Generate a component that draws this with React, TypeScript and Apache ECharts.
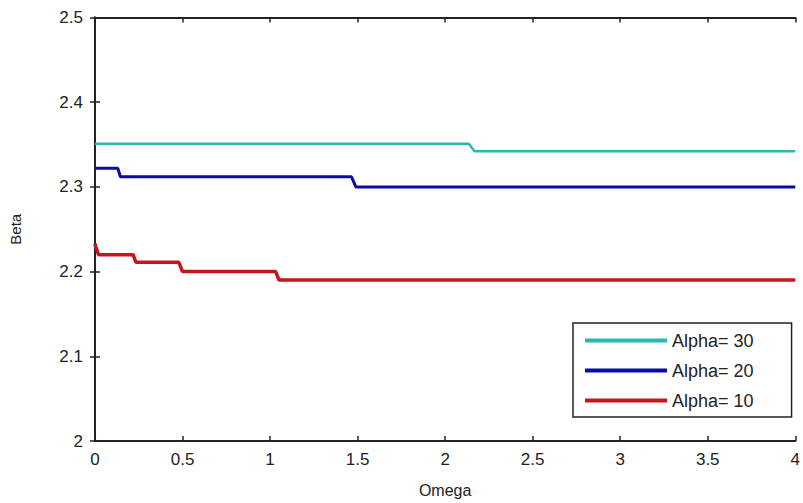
import React, { useEffect, useRef } from "react";
import * as echarts from "echarts";

const seriesNames = ["Alpha= 30", "Alpha= 20", "Alpha= 10"];
const seriesColors = ["#2bb8b2", "#0b0ba6", "#c8141c"];

const cyanX = [0, 2.135, 2.168, 4];
const cyanY = [2.351, 2.351, 2.342, 2.342];

const blueX = [0, 0.13, 0.145, 1.465, 1.49, 4];
const blueY = [2.322, 2.322, 2.312, 2.312, 2.3, 2.3];

const redX = [0, 0.005, 0.02, 0.218, 0.233, 0.479, 0.5, 1.032, 1.051, 4];
const redY = [2.233, 2.229, 2.22, 2.22, 2.211, 2.211, 2.2, 2.2, 2.19, 2.19];

const xTicks = { min: 0, max: 4, interval: 0.5 };
const yTicks = { min: 2, max: 2.5, interval: 0.1 };

const zip = (xs: number[], ys: number[]) => xs.map((x, i) => [x, ys[i]]);

export default function App() {
  const ref = useRef<HTMLDivElement>(null);
  useEffect(() => {
    if (!ref.current) return;
    const chart = echarts.init(ref.current, null, { renderer: "svg" });
    const axisColor = "#222";
    const labelFont = {
      fontFamily: "Liberation Sans, Arial, sans-serif",
      fontSize: 17,
      color: "#222",
    };
    const lineW = [2.5, 3, 3.5];
    const datas = [zip(cyanX, cyanY), zip(blueX, blueY), zip(redX, redY)];
    chart.setOption({
      animation: false,
      backgroundColor: "#fff",
      grid: { left: 95, right: 2.5, top: 17.5, bottom: 59.5, containLabel: false },
      xAxis: [
        {
          type: "value",
          min: xTicks.min,
          max: xTicks.max,
          interval: xTicks.interval,
          name: "Omega",
          nameLocation: "middle",
          nameGap: 41,
          nameTextStyle: { ...labelFont, fontSize: 16 },
          axisLine: { show: true, lineStyle: { color: axisColor, width: 2 } },
          axisTick: { show: true, inside: true, length: 5, lineStyle: { color: axisColor, width: 1.5 } },
          axisLabel: { ...labelFont, margin: 10 },
          splitLine: { show: false },
        },
        {
          type: "value",
          position: "top",
          min: xTicks.min,
          max: xTicks.max,
          interval: xTicks.interval,
          axisLine: { show: true, lineStyle: { color: axisColor, width: 2 } },
          axisTick: { show: true, inside: true, length: 5, lineStyle: { color: axisColor, width: 1.5 } },
          axisLabel: { show: false },
          splitLine: { show: false },
        },
      ],
      yAxis: [
        {
          type: "value",
          min: yTicks.min,
          max: yTicks.max,
          interval: yTicks.interval,
          name: "Beta",
          nameLocation: "middle",
          nameGap: 72,
          nameTextStyle: { ...labelFont, fontSize: 15 },
          axisLine: { show: true, lineStyle: { color: axisColor, width: 2 } },
          axisTick: { show: true, inside: true, length: 5, lineStyle: { color: axisColor, width: 1.5 } },
          axisLabel: { ...labelFont, margin: 12 },
          splitLine: { show: false },
        },
        {
          type: "value",
          position: "right",
          min: yTicks.min,
          max: yTicks.max,
          interval: yTicks.interval,
          axisLine: { show: true, lineStyle: { color: axisColor, width: 2 } },
          axisTick: { show: true, inside: true, length: 5, lineStyle: { color: axisColor, width: 1.5 } },
          axisLabel: { show: false },
          splitLine: { show: false },
        },
      ],
      legend: {
        left: 573,
        top: 323,
        orient: "vertical",
        padding: [8, 38, 7, 12],
        itemGap: 11,
        itemWidth: 82,
        itemHeight: 4,
        icon: "rect",
        borderColor: "#222",
        borderWidth: 1.5,
        backgroundColor: "#fff",
        data: seriesNames,
        textStyle: { ...labelFont, fontSize: 18, lineHeight: 19 },
      },
      series: seriesNames.map((name, i) => ({
        name,
        type: "line",
        data: datas[i],
        symbol: "none",
        smooth: false,
        color: seriesColors[i],
        lineStyle: { color: seriesColors[i], width: lineW[i] },
      })),
    });
    return () => chart.dispose();
  }, []);
  return (
    <div
      ref={ref}
      style={{ position: "absolute", left: 0, top: 0, width: 803, height: 503 }}
    />
  );
}
